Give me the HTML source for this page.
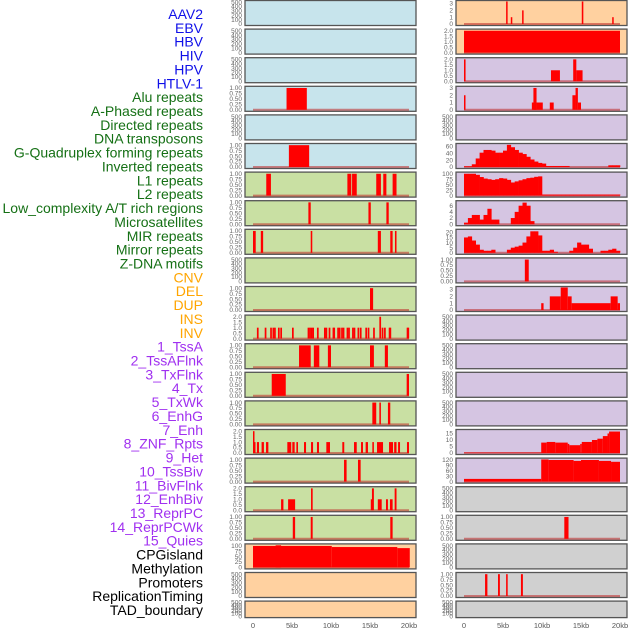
<!DOCTYPE html>
<html><head><meta charset="utf-8">
<style>
body{margin:0;background:#fff;width:630px;height:630px;overflow:hidden;font-family:"Liberation Sans",sans-serif}
svg{display:block}
</style></head>
<body>
<svg id="chart" width="630" height="630" viewBox="0 0 630 630" xmlns="http://www.w3.org/2000/svg"></svg>
<script>
// ---------- labels ----------
const labelNames = ["AAV2","EBV","HBV","HIV","HPV","HTLV-1","Alu repeats","A-Phased repeats","Directed repeats","DNA transposons","G-Quadruplex forming repeats","Inverted repeats","L1 repeats","L2 repeats","Low_complexity A/T rich regions","Microsatellites","MIR repeats","Mirror repeats","Z-DNA motifs","CNV","DEL","DUP","INS","INV","1_TssA","2_TssAFlnk","3_TxFlnk","4_Tx","5_TxWk","6_EnhG","7_Enh","8_ZNF_Rpts","9_Het","10_TssBiv","11_BivFlnk","12_EnhBiv","13_ReprPC","14_ReprPCWk","15_Quies","CPGisland","Methylation","Promoters","ReplicationTiming","TAD_boundary"];
const labelGroups = [0,0,0,0,0,0,1,1,1,1,1,1,1,1,1,1,1,1,1,2,2,2,2,2,3,3,3,3,3,3,3,3,3,3,3,3,3,3,3,4,4,4,4,4];
const groupColors = ["#1010e8","#157015","#ffa500","#a030f0","#000000"];

// ---------- tick label sets ----------
const t500 = ["0","100","200","300","400","500"];
const t1 = ["0.00","0.25","0.50","0.75","1.00"];
const t2 = ["0.0","0.5","1.0","1.5","2.0"];
const t3 = ["0","1","2","3"];
const tQuad = ["0","20","40","60"];
const t100 = ["0","25","50","75","100"];
const t6 = ["0","2","4","6"];
const t20 = ["0","5","10","15","20"];
const t15 = ["0","5","10","15"];
const t120 = ["0","30","60","90","120"];
const xTicks = [0,5,10,15,20];
const xTickLabels = ["0","5kb","10kb","15kb","20kb"];

// ---------- left column data: [startKb, endKb, value] ----------
const L_alu = [[4.3,6.9,1]];
const L_gquad = [[4.6,7.2,1]];
const L_inverted = [[1.7,2.3,1],[12.1,12.6,1],[12.7,13.3,1],[15.8,16.4,1],[16.7,17.1,1],[17.9,18.4,1]];
const L_l1 = [[7.1,7.4,1],[14.8,15.1,1],[17.1,17.4,1]];
const L_l2 = [[0,0.35,1],[1.0,1.3,1],[7.4,7.6,1],[16.0,16.4,1],[17.6,17.9,1],[18.2,18.4,1]];
const L_mir = [[15.0,15.4,1]];
const L_mirrorStarts = [0.5,1.5,2.2,2.5,2.7,3.2,3.5,5.0,7.0,7.2,7.4,7.6,8.2,9.1,9.3,9.7,10.2,10.3,10.8,11.0,11.3,11.5,12.0,12.2,12.7,12.9,13.4,13.7,14.4,14.7,15.4,16.2,16.5,16.8,17.4,17.5,19.7,19.8];
const L_mirrorVals = [1,1,1,1,1,1,1,1,1,1,1,1,1,1,1,1,1,1,1,1,1,1,1,1,1,1,1,1,1,1,1,2,1,1,1,1,1,1];
const L_tssa = [[5.9,7.4,1],[7.8,8.5,1],[9.6,10.0,1],[15.0,15.5,1],[16.9,17.3,1]];
const L_tssaflnk = [[2.4,4.2,1],[19.7,20.0,1]];
const L_txflnk = [[15.3,15.8,1],[16.2,16.4,1],[17.3,17.6,1]];
const L_tx = [[0,0.15,2],[0.13,0.3,1],[0.5,0.77,1],[1.1,1.4,1],[1.67,1.97,1],[4.4,4.9,1],[5.04,5.34,1],[5.56,5.77,1],[6.54,6.8,1],[7.44,7.7,1],[8.2,8.46,1],[9.4,9.87,1],[11.45,11.7,1],[12.95,13.3,1],[13.85,14.1,1],[14.44,14.74,1],[15.3,15.5,1],[15.9,16.67,1],[17.44,17.95,1],[18.1,18.4,1],[18.6,18.85,1],[19.74,20.0,1]];
const L_txwk = [[11.67,12.0,1],[13.46,13.8,1]];
const L_enhg = [[3.6,3.9,1],[4.5,5.4,1],[7.44,7.65,2],[15.1,15.3,1],[15.25,15.5,2],[16.0,16.5,1],[17.05,17.3,1],[17.56,17.9,1],[18.16,18.4,2]];
const L_enh = [[5.1,5.4,1],[7.4,7.65,1],[17.6,17.9,1]];
const L_znf = [[0,10.1,100],[2.9,3.6,103],[10.1,18.5,95],[18.5,20.1,90]];

// ---------- right column data ----------
const R_aav2 = [[5.4,5.55,3.3],[6.0,6.1,1],[7.45,7.6,2],[15.1,15.3,3.3],[19.0,19.15,1]];
const R_ebv = [[0,20,2]];
const R_hbv = [[0,0.2,2],[11.15,12.3,1],[14.0,14.4,2],[14.4,15.2,1]];
const R_hiv = [[0,0.15,2],[8.7,9.3,1],[8.9,9.3,3],[9.3,10.1,1],[11.0,11.5,1],[13.9,14.3,2],[14.3,14.6,3],[14.6,15.0,1]];
// 0.5kb bins
const R_gquadBins = [2,2,8,25,42,50,50,48,42,42,48,65,58,50,42,38,30,22,16,12,10,3,3,3,3,3,3,0,0,0,0,0,0,0,0,0,0,5,5,5];
const R_l1Bins = [100,100,100,95,85,78,75,72,75,80,78,72,60,65,70,75,80,82,86,88,5,5,5,5,5,5,5,5,5,5,5,5,5,5,5,5,5,5,5,5];
const R_lowcBins = [0.5,2,3,3,1.5,3,5,1.5,1.5,0,0,0,2,4,6,7,6,1,0,0,0,0,0,0,0,0,0,0,0,0,0,0,0,0,0,0,0,0,0,0];
const R_mirBins = [15,16,12,8,3,2,2,3,0,0,0,3,5,6,7,10,16,21,21,17,2,2,3,1,0,0,0,2,5,10,8,8,4,0,0,2,2,3,4,2];
const R_zdna = [[7.8,8.3,1]];
const R_cnv = [[9.9,10.2,1],[11.0,12.4,2],[12.4,13.3,3.3],[13.3,13.8,2],[13.8,18.8,1],[18.8,19.7,2],[19.7,20,1]];
const R_txSteps = [[0,9.9,0.3],[9.9,10.6,8],[10.6,11.7,8.5],[11.7,13.3,8],[13.3,13.5,7],[13.5,14.9,6],[14.9,15.1,7],[15.1,16.4,8.5],[16.4,17.1,10],[17.1,17.8,11],[17.8,18.4,13],[18.4,18.6,15],[18.6,20,16.5]];
const R_txwkSteps = [[0,9.9,15],[9.9,10.85,123],[10.85,14.05,120],[14.05,15,115],[15,17.3,120],[17.3,18.85,115],[18.85,20,110]];
const R_enh = [[12.86,13.4,1]];
const R_promoters = [[2.7,3.0,1],[4.36,4.6,1],[5.4,5.6,1],[7.3,7.55,1]];

// ---------- panel layout ----------
const leftBg = ["#c7e4ec","#c7e4ec","#c7e4ec","#c7e4ec","#c7e4ec","#c7e4ec","#c9e0a3","#c9e0a3","#c9e0a3","#c9e0a3","#c9e0a3","#c9e0a3","#c9e0a3","#c9e0a3","#c9e0a3","#c9e0a3","#c9e0a3","#c9e0a3","#c9e0a3","#ffd1a0","#ffd1a0","#ffd1a0"];
const rightBg = ["#ffd1a0","#ffd1a0","#d5c5e2","#d5c5e2","#d5c5e2","#d5c5e2","#d5c5e2","#d5c5e2","#d5c5e2","#d5c5e2","#d5c5e2","#d5c5e2","#d5c5e2","#d5c5e2","#d5c5e2","#d5c5e2","#d5c5e2","#d0d0d0","#d0d0d0","#d0d0d0","#d0d0d0","#d0d0d0"];

const leftPanels = [
 [t500,null,null],[t500,null,null],[t500,null,null],[t1,L_alu,null],[t500,null,null],[t1,L_gquad,null],
 [t1,L_inverted,null],[t1,L_l1,null],[t1,L_l2,null],[t500,null,null],[t1,L_mir,null],[t2,"mirror",null],
 [t1,L_tssa,null],[t1,L_tssaflnk,null],[t1,L_txflnk,null],[t2,L_tx,null],[t1,L_txwk,null],[t2,L_enhg,null],
 [t1,L_enh,null],[t100,L_znf,null],[t500,null,null],[t500,null,null]
];
const rightPanels = [
 [t3,R_aav2,null],[t2,R_ebv,null],[t2,R_hbv,null],[t3,R_hiv,null],[t500,null,null],[tQuad,null,R_gquadBins],
 [t100,null,R_l1Bins],[t6,null,R_lowcBins],[t20,null,R_mirBins],[t1,R_zdna,null],[t3,R_cnv,null],[t500,null,null],
 [t500,null,null],[t500,null,null],[t500,null,null],[t15,R_txSteps,null],[t120,R_txwkSteps,null],[t500,null,null],
 [t1,R_enh,null],[t500,null,null],[t1,R_promoters,null],[t500,null,null]
];
const yMaxOverride = {"R5":66,"R15":17.3,"R16":125,"R0":3.3,"R10":3.3,"L19":105,"R7":7.3,"R8":22};

const svg = document.getElementById('chart');
const NS = "http://www.w3.org/2000/svg";
function mk(tag, attrs, parent){
  const e = document.createElementNS(NS, tag);
  for (const k in attrs) e.setAttribute(k, attrs[k]);
  (parent||svg).appendChild(e);
  return e;
}

// labels
const labTop = 14, labStep = (610-14)/43;
labelNames.forEach((n,i)=>{
  const t = mk('text',{x:203,y:(labTop+i*labStep+5).toFixed(1),'text-anchor':'end','font-size':'14',fill:groupColors[labelGroups[i]]});
  t.textContent = n;
  
  
});

function drawPanel(side, i, cfg, bg){
  const px = side==='L' ? 245 : 456;
  const pw = 171;
  const top = 0.5 + i*28.6;
  const h = i===21 ? 16.5 : 25;
  const x0 = px+8, x1 = px+164;
  const xs = kb => x0 + kb/20*(x1-x0);
  const ticks = cfg[0];
  const maxTick = parseFloat(ticks[ticks.length-1]);
  const ymax = yMaxOverride[side+i] || maxTick*1.03;
  const yb = top+h-1.5, yt = top+1;
  const ys = v => yb - v/ymax*(yb-yt);
  const g = mk('g',{});
  
  
  mk('rect',{x:px,y:top,width:pw,height:h,fill:bg,stroke:'#555',"stroke-width":1.3},g);
  // y ticks
  ticks.forEach(tl=>{
    const v = parseFloat(tl);
    const t = mk('text',{x:px-3,y:(ys(v)+2.2).toFixed(1),'text-anchor':'end','font-size':'6.5',fill:'#666'},g);
    t.textContent = tl;
    
    
  });
  let hasData = false;
  let bars = cfg[1];
  if (bars === "mirror") {
    bars = L_mirrorStarts.map((s,k)=>[s, s+0.22, L_mirrorVals[k]]);
  }
  if (cfg[2]) {
    hasData = true;
    mk('line',{x1:xs(0),x2:xs(20),y1:yb,y2:yb,stroke:'rgba(190,40,40,0.55)','stroke-width':2},g);
    cfg[2].forEach((v,k)=>{
      if (v<=0) return;
      const r = mk('rect',{x:xs(k*0.5),y:ys(v),width:xs(0.5)-xs(0)+0.3,height:yb-ys(v),fill:'#ff0000'},g);
      
      
    });
  } else if (bars) {
    hasData = true;
    mk('line',{x1:xs(0),x2:xs(20),y1:yb,y2:yb,stroke:'rgba(190,40,40,0.55)','stroke-width':2},g);
    bars.forEach(b=>{
      const r = mk('rect',{x:xs(b[0]),y:ys(b[2]),width:Math.max(1.5,xs(b[1])-xs(b[0])),height:yb-ys(b[2]),fill:'#ff0000'},g);
      
      
    });
  }
  return hasData;
}
leftPanels.forEach((c,i)=>drawPanel('L',i,c,leftBg[i]));
rightPanels.forEach((c,i)=>drawPanel('R',i,c,rightBg[i]));

// x axes
[[245],[456]].forEach(([px],j)=>{
  const x0 = px+8, x1 = px+164;
  xTicks.forEach((v,k)=>{
    const t = mk('text',{x:x0+v/20*(x1-x0),y:628,'text-anchor':'middle','font-size':'7.5',fill:'#555'});
    t.textContent = xTickLabels[k];
    
    
  });
});
</script>
</body></html>
